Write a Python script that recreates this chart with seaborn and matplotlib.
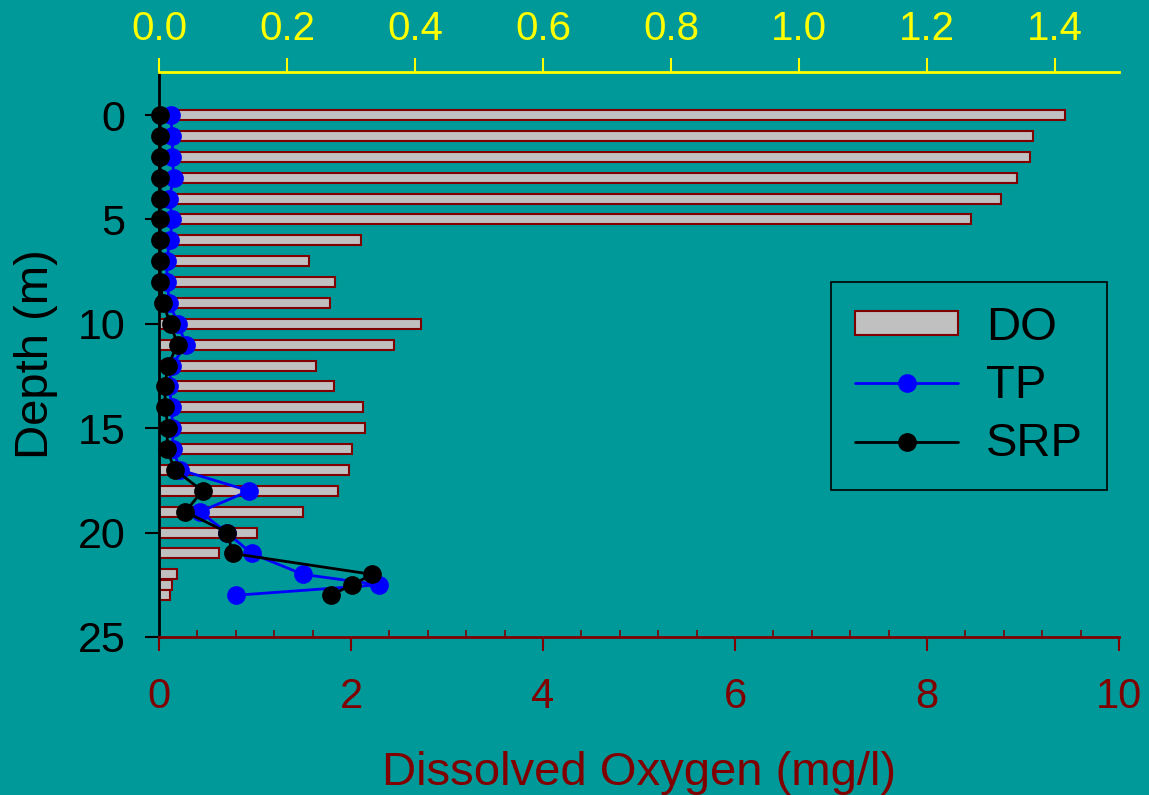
import numpy as np
import pandas as pd
import matplotlib
matplotlib.use("Agg")
import matplotlib.pyplot as plt
from matplotlib.lines import Line2D
from matplotlib.patches import Patch
import seaborn as sns

# Depth profile (m)
depth = [0, 1, 2, 3, 4, 5, 6, 7, 8, 9, 10, 11, 12, 13, 14, 15, 16, 17, 18, 19,
         20, 21, 22, 22.5, 23]
# Dissolved oxygen (mg/l)
do = [9.44, 9.10, 9.07, 8.94, 8.77, 8.46, 2.10, 1.56, 1.83, 1.78, 2.73, 2.45,
      1.64, 1.82, 2.12, 2.15, 2.01, 1.98, 1.86, 1.50, 1.02, 0.63, 0.19, 0.14, 0.11]
# Total phosphorus
tp = [0.018, 0.021, 0.021, 0.023, 0.016, 0.021, 0.017, 0.012, 0.013, 0.016,
      0.030, 0.042, 0.020, 0.016, 0.020, 0.021, 0.022, 0.033, 0.141, 0.064,
      0.106, 0.145, 0.225, 0.344, 0.121]
# Soluble reactive phosphorus
srp = [0.002, 0.002, 0.002, 0.002, 0.002, 0.002, 0.002, 0.002, 0.002, 0.006,
       0.018, 0.029, 0.014, 0.009, 0.010, 0.014, 0.012, 0.025, 0.068, 0.041,
       0.107, 0.115, 0.333, 0.302, 0.268]

do_ticks = [0, 2, 4, 6, 8, 10]
p_ticks = [0.0, 0.2, 0.4, 0.6, 0.8, 1.0, 1.2, 1.4]
depth_ticks = [0, 5, 10, 15, 20, 25]

TEAL = "#009999"
MAROON = "#800000"
YELLOW = "#FFFF00"
MS = 13.5

sns.set_theme(style="white")
plt.rcParams["font.family"] = ["Liberation Sans", "DejaVu Sans"]
plt.rcParams["text.color"] = "black"

df = pd.DataFrame({"depth": depth, "DO": do, "TP": tp, "SRP": srp})

fig = plt.figure(figsize=(11.49, 7.95), dpi=100, facecolor=TEAL)
ax = fig.add_axes([159 / 1149, 1 - 637 / 795, (1119 - 159) / 1149, (637 - 72) / 795])
ax.set_facecolor(TEAL)

sns.barplot(data=df, x="DO", y="depth", orient="y", native_scale=True,
            width=0.96, color="#C0C0C0", edgecolor=MAROON, linewidth=1.5,
            saturation=1, ax=ax)

ax2 = ax.twiny()
sns.lineplot(data=df, x="TP", y="depth", orient="y", sort=False, estimator=None,
             color="#0000FF", marker="o", markersize=MS, markeredgewidth=0,
             linewidth=2, clip_on=False, ax=ax2)
sns.lineplot(data=df, x="SRP", y="depth", orient="y", sort=False, estimator=None,
             color="black", marker="o", markersize=MS, markeredgewidth=0,
             linewidth=2, clip_on=False, ax=ax2)

# Bottom axis: dissolved oxygen
ax.set_xlim(0, 10)
ax.set_xticks(do_ticks)
ax.set_xticklabels([str(t) for t in do_ticks])
ax.set_xticks(np.arange(0, 10.01, 0.4), minor=True)
ax.tick_params(axis="x", which="major", direction="out", length=10, width=1.5,
               color=MAROON, labelcolor=MAROON, labelsize=30, pad=19, bottom=True)
ax.tick_params(axis="x", which="minor", direction="in", length=5, width=1.2,
               color=MAROON, bottom=True)
ax.set_xlabel("Dissolved Oxygen (mg/l)", color=MAROON, fontsize=34, labelpad=24)

# Depth axis
ax.set_ylim(25, -2.06)
ax.set_yticks(depth_ticks)
ax.set_yticklabels([str(t) for t in depth_ticks])
ax.tick_params(axis="y", direction="out", length=10, width=1.5, color="black",
               labelcolor="black", labelsize=31, pad=14, left=True)
ax.set_ylabel("Depth (m)", color="black", fontsize=34, labelpad=14)

for side in ["top", "right"]:
    ax.spines[side].set_visible(False)
ax.spines["left"].set_color("black")
ax.spines["left"].set_linewidth(2)
ax.spines["bottom"].set_color(MAROON)
ax.spines["bottom"].set_linewidth(2)

# Top axis: phosphorus
ax2.set_xlim(0, 1.5)
ax2.set_xticks(p_ticks)
ax2.set_xticklabels([f"{t:.1f}" for t in p_ticks])
ax2.tick_params(axis="x", direction="out", length=10, width=1.5, color=YELLOW,
                labelcolor=YELLOW, labelsize=29, pad=7, top=True)
ax2.set_xlabel("")
for side in ["bottom", "left", "right"]:
    ax2.spines[side].set_visible(False)
ax2.spines["top"].set_color(YELLOW)
ax2.spines["top"].set_linewidth(2)
ax2.set_ylim(25, -2.06)

handles = [
    Patch(facecolor="#C0C0C0", edgecolor=MAROON, linewidth=1.5),
    Line2D([], [], color="#0000FF", marker="o", markersize=MS,
           markeredgewidth=0, linewidth=2),
    Line2D([], [], color="black", marker="o", markersize=MS,
           markeredgewidth=0, linewidth=2),
]
leg = ax2.legend(handles, ["DO", "TP", "SRP"], loc="upper left",
                 bbox_to_anchor=(831 / 1149, 1 - 282 / 795),
                 bbox_transform=fig.transFigure, borderaxespad=0,
                 fontsize=34, labelcolor="black", frameon=True, fancybox=False,
                 framealpha=1, facecolor=TEAL, edgecolor="black",
                 handlelength=2.2, handleheight=0.4, handletextpad=0.59,
                 borderpad=0.5, labelspacing=0.30)
leg.get_frame().set_linewidth(1.2)

fig.savefig("out.png", dpi=100, facecolor=TEAL)
